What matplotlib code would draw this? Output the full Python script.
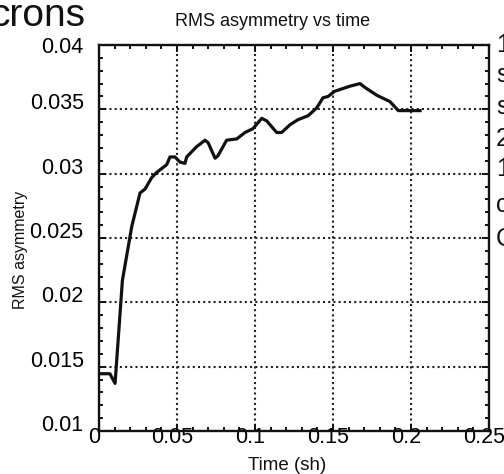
import matplotlib
matplotlib.use("Agg")
import matplotlib.pyplot as plt
from matplotlib.ticker import AutoMinorLocator
from matplotlib.transforms import ScaledTranslation

# RMS asymmetry time history
time_sh = [0.0, 0.0070, 0.0103, 0.0150, 0.0210, 0.0263, 0.0295, 0.0338, 0.0370,
           0.0434, 0.0455, 0.0487, 0.0519, 0.0551, 0.0562, 0.0626, 0.0680, 0.0700,
           0.0744, 0.0763, 0.0818, 0.0883, 0.0936, 0.0987, 0.1043, 0.1075, 0.1139,
           0.1171, 0.1224, 0.1276, 0.1340, 0.1395, 0.1436, 0.1468, 0.1510, 0.1609,
           0.1673, 0.1705, 0.1780, 0.1865, 0.1919, 0.2058]
rms_asym = [0.01445, 0.01445, 0.0137, 0.0217, 0.0259, 0.0285, 0.0288, 0.0297, 0.0301,
            0.0307, 0.0313, 0.0313, 0.0309, 0.0308, 0.0313, 0.0321, 0.0326, 0.0324,
            0.0312, 0.0314, 0.0326, 0.0327, 0.0332, 0.0335, 0.0343, 0.0341, 0.0332,
            0.0332, 0.0338, 0.0342, 0.0345, 0.0351, 0.0359, 0.0360, 0.0364, 0.0368,
            0.0370, 0.0367, 0.0361, 0.0356, 0.0349, 0.0349]

xticks = [0.0, 0.05, 0.1, 0.15, 0.2, 0.25]
xtick_labels = ["0", "0.05", "0.1", "0.15", "0.2", "0.25"]
yticks = [0.01, 0.015, 0.02, 0.025, 0.03, 0.035, 0.04]
ytick_labels = ["0.01", "0.015", "0.02", "0.025", "0.03", "0.035", "0.04"]

plt.rcParams["font.family"] = ["Liberation Sans", "DejaVu Sans"]

W, H = 504, 474
fig = plt.figure(figsize=(W / 100, H / 100), dpi=100)
ax = fig.add_axes([99 / W, 1 - 431 / H, 390 / W, 386 / H])

ax.plot(time_sh, rms_asym, color="#111111", linewidth=2.3, zorder=3,
        solid_joinstyle="round")

ax.set_xlim(0, 0.25)
ax.set_ylim(0.01, 0.04)
ax.set_xticks(xticks)
ax.set_xticklabels(xtick_labels)
ax.set_yticks(yticks)
ax.set_yticklabels(ytick_labels)
ax.xaxis.set_minor_locator(AutoMinorLocator(5))
ax.yaxis.set_minor_locator(AutoMinorLocator(5))

ax.grid(True, which="major", color="#222222", linestyle=(0, (1, 1.5)),
        linewidth=1.5)

ax.tick_params(which="both", direction="in", top=True, right=True,
               color="#111111", width=1.4)
ax.tick_params(which="major", length=5)
ax.tick_params(which="minor", length=3)
ax.tick_params(axis="x", which="major", labelsize=15.5, pad=-3)
ax.tick_params(axis="y", which="major", labelsize=15.5, pad=11)

ylabels = ax.get_yticklabels()
for lab in ylabels[:-1]:
    lab.set_verticalalignment("baseline")
ylabels[-1].set_verticalalignment("center_baseline")

for tick in ax.xaxis.get_major_ticks():
    tick.label1.set_transform(tick.label1.get_transform() +
                              ScaledTranslation(-5 / 100, 0, fig.dpi_scale_trans))

for sp in ax.spines.values():
    sp.set_linewidth(1.7)
    sp.set_color("#111111")

fig.text(273 / W, 1 - 22 / H, "RMS asymmetry vs time", ha="center", va="center",
         fontsize=13, color="#111111")
fig.text(287 / W, 1 - 466 / H, "Time (sh)", ha="center", va="center",
         fontsize=13.5, color="#111111")
fig.text(21 / W, 1 - 250 / H, "RMS asymmetry", ha="center", va="center",
         rotation=90, fontsize=11.5, color="#111111")

# fragments of neighbouring slide text
fig.text(85 / W, 1 - 26 / H, "crons", ha="right", va="baseline",
         fontsize=28, color="#111111")
for ch, yy in [("1", 52), ("s", 82), ("s", 114), ("2", 146), ("1", 176),
               ("c", 212), ("C", 246)]:
    fig.text(496 / W, 1 - yy / H, ch, ha="left", va="baseline",
             fontsize=18, color="#111111")

fig.savefig("out.png", dpi=100)
